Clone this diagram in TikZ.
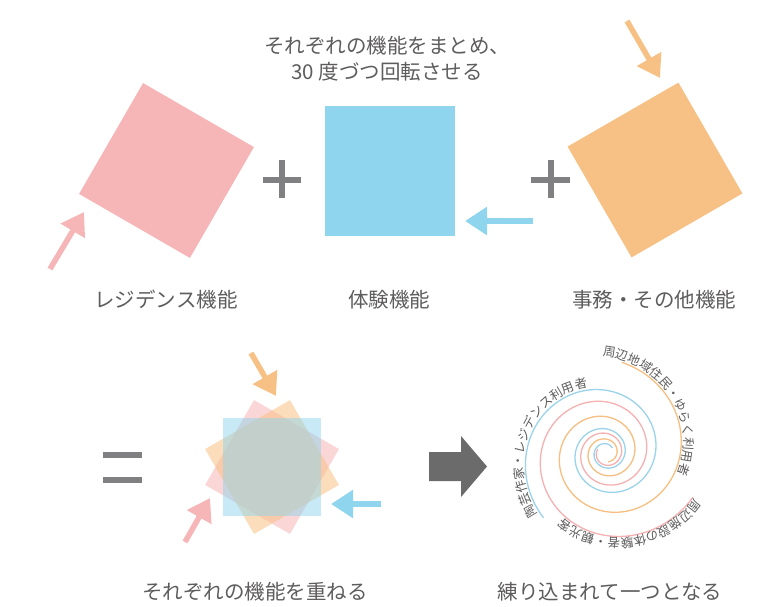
\documentclass[tikz,border=0pt]{standalone}
\usepackage{fontspec}
\newfontfamily\jp{Noto Sans CJK JP}
\usetikzlibrary{arrows.meta,decorations.text}
\definecolor{pinkc}{HTML}{F6B5B7}
\definecolor{bluec}{HTML}{8FD5ED}
\definecolor{orangec}{HTML}{F7C185}
\definecolor{spblue}{HTML}{9AD3EA}
\definecolor{sppink}{HTML}{F5B0B2}
\definecolor{sporange}{HTML}{F6BE80}
\definecolor{graybar}{HTML}{808083}
\definecolor{darkarrow}{HTML}{6B6B6B}
\definecolor{txt}{HTML}{5E5C5C}
\def\cx{606}
\def\cy{453}
\def\spfont{\jp\fontsize{12.5}{14}\selectfont}
\begin{document}
\begin{tikzpicture}[x=1pt,y=-1pt,
  declare function={rb(\t)=90*exp(0.002654*(\t-226));
                    rp(\t)=97.5*exp(0.002654*(\t-333));
                    ro(\t)=92*exp(0.002654*(\t-440));},
  lbl/.style={font=\jp\fontsize{20.5}{26}\selectfont, text=txt, inner sep=0pt, align=center},
  sq/.style={draw=none, inner sep=0pt, minimum size=#1, shape=rectangle},
  fat/.style={line width=5.5pt, -{Triangle[length=22pt 0,width=27pt 0]}},
  spl/.style={line width=1.3pt},
  bar/.style={fill=graybar},
]
\useasboundingbox (0,0) rectangle (759,606);

% ---------- top row ----------
\node[sq=128pt, fill=pinkc, rotate=-30] (res) at (166.5,170.5) {};
\node[sq=130pt, fill=bluec] (exp) at (389.5,170.5) {};
\node[sq=128pt, fill=orangec, rotate=30] (off) at (655,170) {};

\coordinate (pa1) at (50,269);  \coordinate (pa2) at (84,212);
\coordinate (ba1) at (533,221); \coordinate (ba2) at (465,221);
\coordinate (oa1) at (627,21);  \coordinate (oa2) at (660,78);
\draw[fat, pinkc] (pa1) -- (pa2);
\draw[fat, bluec] (ba1) -- (ba2);
\draw[fat, orangec] (oa1) -- (oa2);

% plus signs
\fill[bar] (263,176.5) rectangle (301,182.5);
\fill[bar] (279,160) rectangle (285,198);
\fill[bar] (531,176.5) rectangle (570,182.5);
\fill[bar] (547.5,160) rectangle (553.5,198);

\node[lbl] (title) at (387,59) {それぞれの機能をまとめ、\\30 度づつ回転させる};
\node[lbl] (l1) at (166,300) {レジデンス機能};
\node[lbl] (l2) at (389,300) {体験機能};
\node[lbl] (l3) at (654,300) {事務・その他機能};

% ---------- bottom row ----------
\fill[bar] (103,452) rectangle (142,458);
\fill[bar] (103,477) rectangle (142,483);

\node[sq=98pt, fill=pinkc, fill opacity=0.55, rotate=-30] (bp) at (272,467) {};
\node[sq=98pt, fill=orangec, fill opacity=0.55, rotate=30] (bo) at (272,467) {};
\node[sq=98pt, fill=bluec, fill opacity=0.5] (bb) at (272,467) {};

\coordinate (boa1) at (251,353); \coordinate (boa2) at (276,396);
\coordinate (bba1) at (381,504); \coordinate (bba2) at (331,504);
\coordinate (bpa1) at (185,542); \coordinate (bpa2) at (210,498);
\draw[fat, orangec] (boa1) -- (boa2);
\draw[fat, bluec] (bba1) -- (bba2);
\draw[fat, pinkc] (bpa1) -- (bpa2);

\fill[darkarrow] (429,452) -- (461,452) -- (461,436) -- (487,466.5)
  -- (461,497) -- (461,481) -- (429,481) -- cycle;

% spiral
\draw[spl, spblue] plot[domain=-681:226, samples=400, smooth, variable=\t]
  ({\cx+rb(\t)*cos(\t)},{\cy-rb(\t)*sin(\t)});
\draw[spl, sppink] plot[domain=-565:333, samples=400, smooth, variable=\t]
  ({\cx+rp(\t)*cos(\t)},{\cy-rp(\t)*sin(\t)});
\draw[spl, sporange] plot[domain=-436:440, samples=400, smooth, variable=\t]
  ({\cx+ro(\t)*cos(\t)},{\cy-ro(\t)*sin(\t)});

\path[decorate, decoration={text along path, text align=left,
  text={|\color{txt}\spfont|陶芸作家・レジデンス利用者}}]
  plot[domain=0:135, samples=28, variable=\s]
  ({\cx+(rb(222-\s)+2.5)*cos(222-\s)},{\cy-(rb(222-\s)+2.5)*sin(222-\s)});
\path[decorate, decoration={text along path, text align=left,
  text={|\color{txt}\spfont|周辺地域住民・ゆらく利用者}}]
  plot[domain=0:135, samples=28, variable=\s]
  ({\cx+(ro(452-\s)+2.5)*cos(452-\s)},{\cy-(ro(452-\s)+2.5)*sin(452-\s)});
\path[decorate, decoration={text along path, text align=left,
  text={|\color{txt}\spfont|周辺施設の体験者・観光客}}]
  plot[domain=0:125, samples=26, variable=\s]
  ({\cx+(rp(333-\s)+2)*cos(333-\s)},{\cy-(rp(333-\s)+2)*sin(333-\s)});

\node[lbl] (l4) at (255,592) {それぞれの機能を重ねる};
\node[lbl] (l5) at (610,592) {練り込まれて一つとなる};
\end{tikzpicture}
\end{document}
